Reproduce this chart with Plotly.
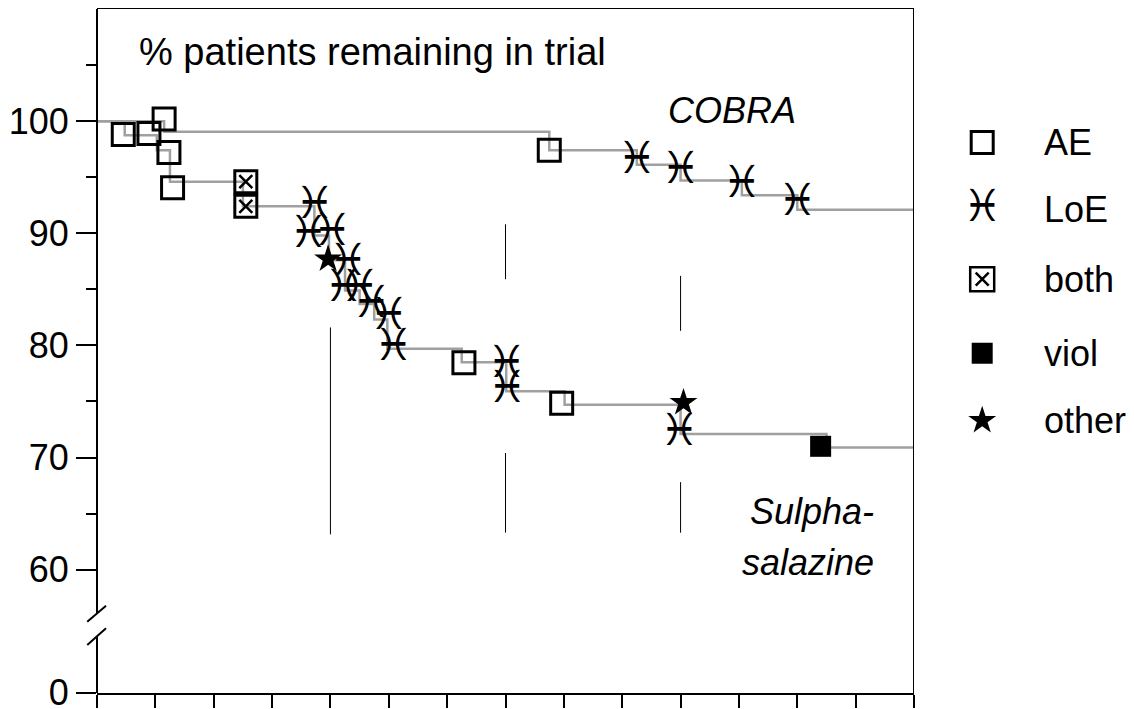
import plotly.graph_objects as go

# weeks in trial vs % patients remaining
cobra_weeks = [0, 4.6, 31.0, 37.0, 40.0, 44.2, 48.0, 56]
cobra_pct = [100, 99.05, 97.4, 96.1, 94.7, 93.4, 92.1, 92.1]

ssz_weeks = [0, 1.9, 4.1, 5.0, 10.0, 14.9, 15.9, 17.0, 18.0, 19.0, 19.9, 25.0, 28.05, 32.05, 40.0, 50.0, 56]
ssz_pct = [100, 98.75, 97.4, 94.6, 92.4, 89.8, 87.6, 84.9, 83.7, 82.3, 79.7, 78.5, 75.9, 74.7, 72.1, 70.9, 70.9]

# withdrawal reasons (both arms)
ae_weeks = [4.6, 31.0, 1.8, 3.56, 4.93, 5.18, 25.15, 31.85]
ae_pct = [100.2, 97.4, 98.8, 98.9, 97.2, 94.05, 78.45, 74.85]
loe_weeks = [37.0, 40.0, 44.2, 48.0, 14.9, 14.5, 16.1, 17.2, 16.9, 18.0, 18.8, 20.0, 20.3, 28.07, 28.1, 39.9]
loe_pct = [96.4, 95.5, 94.2, 92.6, 92.35, 89.8, 89.9, 87.3, 84.95, 84.95, 83.5, 82.4, 79.7, 78.2, 75.9, 72.1]
both_weeks = [10.2, 10.2]
both_pct = [94.6, 92.4]
viol_weeks = [49.6]
viol_pct = [71.0]
other_weeks = [15.84, 40.2]
other_pct = [87.7, 74.9]

# visit markers
visit_weeks = [16, 28, 28, 40, 40]
visit_lo = [63.15, 85.9, 63.3, 81.3, 63.3]
visit_hi = [81.6, 90.8, 70.4, 86.2, 67.8]

y_ticks = [49.02, 60, 70, 80, 90, 100]
y_ticktext = ["0", "60", "70", "80", "90", "100"]
x_ticks = list(range(0, 57, 4))

legend_labels = ["AE", "LoE", "both", "viol", "other"]
legend_y = [98.1, 92.1, 85.9, 79.3, 73.3]

LOE = "\u2653\ufe0e"
FONT = "Liberation Sans, Arial, sans-serif"
GRAY = "#a0a0a0"
LOE_FONT = dict(family="DejaVu Sans", size=44, color="black")

fig = go.Figure()

vx, vy = [], []
for w, lo, hi in zip(visit_weeks, visit_lo, visit_hi):
    vx += [w, w, None]
    vy += [lo, hi, None]
fig.add_trace(go.Scatter(x=vx, y=vy, mode="lines", line=dict(color="black", width=1)))

for wk, pc in [(cobra_weeks, cobra_pct), (ssz_weeks, ssz_pct)]:
    fig.add_trace(go.Scatter(x=wk, y=pc, mode="lines", line=dict(color=GRAY, width=2.5, shape="hv")))

sq = dict(symbol="square-open", size=22, color="black", line=dict(width=3, color="black"))
xs = dict(symbol="x-thin-open", size=13, color="black", line=dict(width=2.5, color="black"))
filled = dict(symbol="square", size=21, color="black", line=dict(width=0))
star = dict(symbol="star", size=21, color="black", line=dict(width=0))

fig.add_trace(go.Scatter(x=ae_weeks, y=ae_pct, mode="markers", marker=sq))
fig.add_trace(go.Scatter(x=both_weeks, y=both_pct, mode="markers", marker=sq))
fig.add_trace(go.Scatter(x=both_weeks, y=both_pct, mode="markers", marker=xs))
fig.add_trace(go.Scatter(x=viol_weeks, y=viol_pct, mode="markers", marker=filled))
fig.add_trace(go.Scatter(x=other_weeks, y=other_pct, mode="markers", marker=star))
fig.add_trace(go.Scatter(x=loe_weeks, y=loe_pct, mode="text", text=[LOE] * len(loe_weeks), textfont=LOE_FONT))

# legend drawn on its own axes
lx = 0.31
fig.add_trace(go.Scatter(x=[lx], y=[legend_y[0]], mode="markers", marker=sq, xaxis="x2", yaxis="y2"))
fig.add_trace(go.Scatter(x=[lx], y=[legend_y[1]], mode="text", text=[LOE], xaxis="x2", yaxis="y2",
                         textfont=LOE_FONT))
fig.add_trace(go.Scatter(x=[lx], y=[legend_y[2]], mode="markers", xaxis="x2", yaxis="y2",
                         marker=dict(symbol="square-open", size=24, color="black",
                                     line=dict(width=2.5, color="black"))))
fig.add_trace(go.Scatter(x=[lx], y=[legend_y[2]], mode="markers", xaxis="x2", yaxis="y2", marker=xs))
fig.add_trace(go.Scatter(x=[lx], y=[legend_y[3]], mode="markers", xaxis="x2", yaxis="y2", marker=filled))
fig.add_trace(go.Scatter(x=[lx], y=[legend_y[4]], mode="markers", xaxis="x2", yaxis="y2", marker=star))
for lab, yy in zip(legend_labels, legend_y):
    fig.add_annotation(x=0.58, y=yy, xref="x2", yref="y2", text=lab, showarrow=False,
                       xanchor="left", yanchor="middle", font=dict(size=36, family=FONT, color="black"))

fig.add_annotation(x=0.0386, y=0.937, xref="paper", yref="paper", text="% patients remaining in trial",
                   showarrow=False, xanchor="left", yanchor="middle", font=dict(size=38, family=FONT, color="black"))
fig.add_annotation(x=43.5, y=100.98, text="<i>COBRA</i>", showarrow=False, xanchor="center", yanchor="middle",
                   font=dict(size=36, family=FONT, color="black"))
fig.add_annotation(x=53.4, y=65.2, text="<i>Sulpha-</i>", showarrow=False, xanchor="right", yanchor="middle",
                   font=dict(size=36, family=FONT, color="black"))
fig.add_annotation(x=53.4, y=60.6, text="<i>salazine</i>", showarrow=False, xanchor="right", yanchor="middle",
                   font=dict(size=36, family=FONT, color="black"))

# frame: broken left axis, right border
ln = dict(color="black", width=2)
fig.add_shape(type="line", xref="paper", yref="paper", x0=0, x1=0, y0=0, y1=0.0823, line=ln)
fig.add_shape(type="line", xref="paper", yref="paper", x0=0, x1=0, y0=0.1159, y1=1, line=ln)
fig.add_shape(type="line", xref="paper", yref="paper", x0=-0.0094, x1=0.0087, y0=0.1042, y1=0.1276, line=ln)
fig.add_shape(type="line", xref="paper", yref="paper", x0=-0.0094, x1=0.0087, y0=0.0702, y1=0.0946, line=ln)
fig.add_shape(type="line", xref="x", yref="paper", x0=56, x1=56, y0=0, y1=1, line=ln)

# page body adds an 8px margin, so the figure is sized to fit inside it
main_dom = 817 / 1037
fig.update_layout(
    width=1126, height=701,
    margin=dict(l=89, r=0, t=1, b=16, autoexpand=False),
    plot_bgcolor="white", paper_bgcolor="white",
    showlegend=False,
    font=dict(family=FONT, size=36, color="black"),
    xaxis=dict(domain=[0, main_dom], range=[0, 56], tickmode="array", tickvals=x_ticks,
               showticklabels=False, ticks="outside", ticklen=13, tickwidth=2, tickcolor="black",
               showline=True, linewidth=2, linecolor="black", mirror=True,
               showgrid=False, zeroline=False, automargin=False),
    yaxis=dict(range=[49, 110], tickmode="array", tickvals=y_ticks, ticktext=y_ticktext,
               ticks="outside", ticklen=20, tickwidth=2, tickcolor="black", ticklabeloverflow="allow",
               tickfont=dict(size=36, family=FONT, color="black"),
               minor=dict(tickmode="array", tickvals=[65, 75, 85, 95, 105], ticks="outside",
                          ticklen=10, tickwidth=2, tickcolor="black", showgrid=False),
               showline=False, showgrid=False, zeroline=False, automargin=False),
    xaxis2=dict(domain=[main_dom, 1], range=[0, 1], visible=False, anchor="y2"),
    yaxis2=dict(range=[49, 110], visible=False, anchor="x2"),
)

fig.write_html("out.html")
